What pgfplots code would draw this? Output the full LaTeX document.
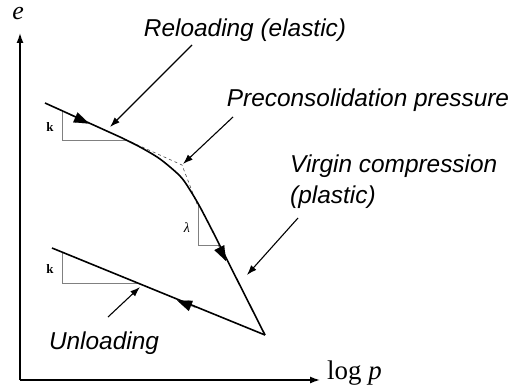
\documentclass[border=0pt]{standalone}
\usepackage{pgfplots}
\pgfplotsset{compat=1.18}
\usepackage{fontspec}
\usetikzlibrary{arrows.meta}
\newfontfamily\helv{Liberation Sans}
\newfontfamily\tms{Liberation Serif}

\begin{document}
\begin{tikzpicture}
\begin{axis}[
  width=515bp, height=392bp, scale only axis,
  xmin=0, xmax=515, ymin=0, ymax=392,
  y dir=reverse,
  hide axis, clip=false,
]
% coordinate axes
\addplot[black, line width=1.4pt, -{Latex[length=10pt,width=7pt]}] coordinates {(20,380) (20,33)};
\addplot[black, line width=1.4pt, -{Latex[length=10pt,width=7pt]}] coordinates {(20,380) (320,380)};

% slope triangles
\addplot[gray, line width=0.7pt] coordinates {(62,111) (62,140) (126,140)};
\addplot[gray, line width=0.7pt] coordinates {(62,253) (62,283) (137,283)};
\addplot[gray, line width=0.7pt] coordinates {(198,204) (198,245) (219,245)};

% tangent construction for the preconsolidation pressure
\addplot[black!70, dashed, line width=0.6pt] coordinates {(120,137) (182,165) (197,204)};

% loading path: reloading, transition, virgin compression
\addplot[black, line width=1.6pt] coordinates {(45,103) (120,137)};
\addplot[black, line width=1.6pt, smooth] coordinates {(120,137) (140,147) (160,159) (180,176) (190,190) (200,207) (212,230)};
\addplot[black, line width=1.6pt] coordinates {(212,230) (265,335)};
% unloading path
\addplot[black, line width=1.6pt] coordinates {(265,335) (52,248)};

% direction heads on the paths
\addplot[black, line width=0.1pt, -{Triangle[length=15pt,width=11pt]}] coordinates {(70,115) (89,123.5)};
\addplot[black, line width=0.1pt, -{Triangle[length=15pt,width=11pt]}] coordinates {(218,245) (226,261)};
\addplot[black, line width=0.1pt, -{Triangle[length=15pt,width=11pt]}] coordinates {(196,308) (177,300.3)};

% annotation arrows
\addplot[black, line width=1.1pt, -{Latex[length=10pt,width=7pt]}] coordinates {(192,45) (110,127)};
\addplot[black, line width=1.1pt, -{Latex[length=10pt,width=7pt]}] coordinates {(233,117) (183,164)};
\addplot[black, line width=1.1pt, -{Latex[length=10pt,width=7pt]}] coordinates {(298,218) (247,275)};
\addplot[black, line width=1.1pt, -{Latex[length=10pt,width=7pt]}] coordinates {(108,317) (140,287)};

% labels
\node[font=\helv\itshape\fontsize{24.5}{28}\selectfont] at (axis cs:245,30) {Reloading (elastic)};
\node[font=\helv\itshape\fontsize{24.5}{28}\selectfont] at (axis cs:368,100) {Preconsolidation pressure};
\node[font=\helv\itshape\fontsize{24.5}{31}\selectfont, anchor=west, align=left, inner sep=0pt] at (axis cs:290,182) {Virgin compression\\(plastic)};
\node[font=\helv\itshape\fontsize{24.5}{28}\selectfont] at (axis cs:104,343) {Unloading};
\node[font=\tms\itshape\fontsize{26}{28}\selectfont] at (axis cs:18,14) {e};
\node[font=\tms\fontsize{27}{30}\selectfont, anchor=west, inner sep=0pt] at (axis cs:327,373) {log \itshape p};
\node[font=\tms\bfseries\fontsize{13}{15}\selectfont] at (axis cs:50,127) {k};
\node[font=\tms\bfseries\fontsize{13}{15}\selectfont] at (axis cs:50,269) {k};
\node[font=\tms\itshape\fontsize{14}{16}\selectfont] at (axis cs:187,228) {λ};
\end{axis}
\pgfresetboundingbox
\path (current axis.south west) rectangle (current axis.north east);
\end{tikzpicture}
\end{document}
